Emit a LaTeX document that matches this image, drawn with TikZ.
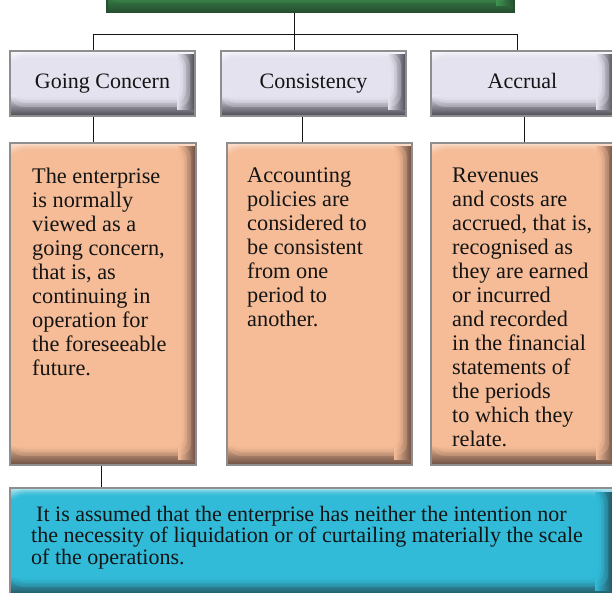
\documentclass[tikz,border=0pt]{standalone}
\usepackage{fontspec}
\setmainfont{Liberation Serif}
\usetikzlibrary{calc}
\definecolor{grface}{HTML}{E4E2EE}
\definecolor{grdark}{HTML}{4A4850}
\definecolor{grlight}{HTML}{F8F7FC}
\definecolor{orface}{HTML}{F5BC97}
\definecolor{ordark}{HTML}{6A4E42}
\definecolor{orlight}{HTML}{FBDFCE}
\definecolor{blface}{HTML}{31BBD8}
\definecolor{bldark}{HTML}{24505C}
\definecolor{bllight}{HTML}{B0E4F0}
\definecolor{gnface}{HTML}{3F9250}
\definecolor{gndark}{HTML}{264F30}
\definecolor{gnlight}{HTML}{6FC07C}
\definecolor{edgegray}{HTML}{8E8E8E}
\definecolor{ink}{HTML}{141414}
\tikzset{
  bevel/.style n args={3}{draw=edgegray, line width=1.2pt, fill=#1, inner sep=0pt,
    path picture={
      \path (path picture bounding box.south west) coordinate (pp1)
            (path picture bounding box.north east) coordinate (pp2);
      \shade[top color=#3, bottom color=#1] (pp1|-pp2) rectangle ($(pp2)+(0,-12pt)$);
      \shade[top color=#1, bottom color=#2, middle color=#2!55!#1] ($(pp1)+(0,20pt)$) rectangle (pp2|-pp1);
      \shade[left color=#1, right color=#2, middle color=#2!50!#1] ($(pp2)+(-18pt,-4pt)$) rectangle ($(pp2|-pp1)+(0,6pt)$);
      \fill[#1, opacity=0.3, rounded corners=12pt] ($(pp1)+(1pt,9pt)$) rectangle ($(pp2)+(-5pt,-2pt)$);
      \fill[#1, opacity=0.4, rounded corners=12pt] ($(pp1)+(3pt,13pt)$) rectangle ($(pp2)+(-9pt,-4pt)$);
      \fill[#1, opacity=0.6, rounded corners=11pt] ($(pp1)+(4pt,16pt)$) rectangle ($(pp2)+(-12pt,-6pt)$);
      \fill[#1, rounded corners=10pt] ($(pp1)+(6pt,19pt)$) rectangle ($(pp2)+(-15pt,-8pt)$);
    }},
  graybox/.style={bevel={grface}{grdark}{grlight}, minimum height=65pt,
    font=\fontsize{22}{24}\selectfont, text=ink, text height=15pt, text depth=5pt},
  orangebox/.style={bevel={orface}{ordark}{orlight}, minimum height=322pt},
  bluebox/.style={bevel={blface}{bldark}{bllight}},
  greenbox/.style={bevel={gnface}{gndark}{gnlight}, draw=gndark},
  bodytext/.style={anchor=north west, inner sep=0pt, align=left, text=ink,
    font=\fontsize{22.3}{24}\selectfont},
  conn/.style={draw=ink, line width=0.9pt},
}
\begin{document}
\begin{tikzpicture}[x=1pt, y=1pt]
\useasboundingbox (0,0) rectangle (612,592);
\clip (0,0) rectangle (612,592);
% top green box (mostly cut off)
\node[greenbox, minimum width=407pt, minimum height=40pt] (top) at (310.5,600) {};
% principle boxes
\node[graybox, minimum width=185pt] (gc) at (102.5,508.5) {Going Concern};
\node[graybox, minimum width=185pt] (cons) at (313.5,508.5) {Consistency};
\node[graybox, minimum width=183pt] (acc) at (522.5,508.5) {Accrual};
% description boxes
\node[orangebox, minimum width=186pt] (gcd) at (103,288) {};
\node[orangebox, minimum width=185pt] (consd) at (319.5,288) {};
\node[orangebox, minimum width=183pt] (accd) at (522.5,288) {};
% bottom box
\node[bluebox, minimum width=603pt, minimum height=108pt] (note) at (311.5,50) {};
% texts
\node[bodytext] (gct) at (32,424) {The enterprise\\is normally\\viewed as a\\going concern,\\that is, as\\continuing in\\operation for\\the foreseeable\\future.};
\node[bodytext] (const) at (247,424) {Accounting\\policies are\\considered to\\be consistent\\from one\\period to\\another.};
\node[bodytext] (acct) at (452,424) {Revenues\\and costs are\\accrued, that is,\\recognised as\\they are earned\\or incurred\\and recorded\\in the financial\\statements of\\the periods\\to which they\\relate.};
\node[bodytext, font=\fontsize{22}{21.5}\selectfont] (notet) at (31,86) {\hspace{5pt}It is assumed that the enterprise has neither the intention nor\\the necessity of liquidation or of curtailing materially the scale\\of the operations.};
% connectors
\coordinate (bL) at (93,558);
\coordinate (bM) at (294,558);
\coordinate (bR) at (517,558);
\draw[conn] (bM |- top.south) -- (bM);
\draw[conn] (gc.north -| bL) -- (bL) -- (bR) -- (acc.north -| bR);
\draw[conn] (bM) -- (cons.north -| bM);
\coordinate (dL) at (93,0);
\coordinate (dM) at (302,0);
\coordinate (dR) at (524,0);
\draw[conn] (gc.south -| dL) -- (gcd.north -| dL);
\draw[conn] (cons.south -| dM) -- (consd.north -| dM);
\draw[conn] (acc.south -| dR) -- (accd.north -| dR);
\coordinate (nL) at (101,0);
\draw[conn] (gcd.south -| nL) -- (note.north -| nL);
\end{tikzpicture}
\end{document}
